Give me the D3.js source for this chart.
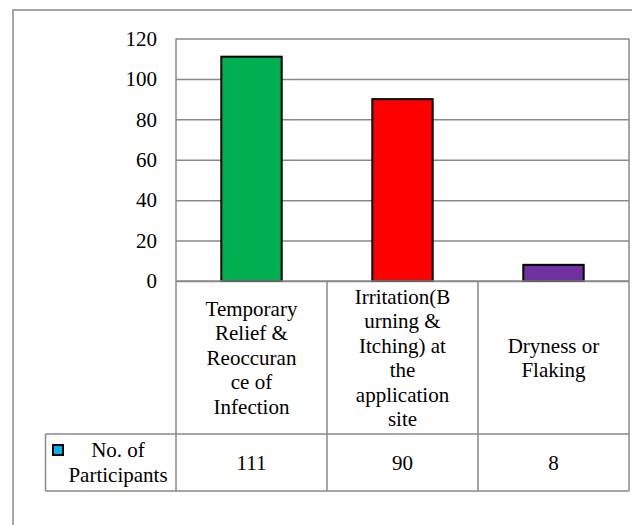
<!DOCTYPE html>
<html>
<head>
<meta charset="utf-8">
<script src="https://cdn.jsdelivr.net/npm/d3@7"></script>
<style>
  body { margin: 0; background: #fff; }
</style>
</head>
<body>
<script>
// chart data
const categories = [
  ["Temporary", "Relief &", "Reoccuran", "ce of", "Infection"],
  ["Irritation(B", "urning &", "Itching) at", "the", "application", "site"],
  ["Dryness or", "Flaking"]
];
const values = [111, 90, 8];
const barColors = ["#00b050", "#ff0000", "#7030a0"];
const seriesName = ["No. of", "Participants"];
const yTicks = [0, 20, 40, 60, 80, 100, 120];

const W = 632, H = 525;
const plotLeft = 176, plotRight = 629, plotTop = 38.5, zeroY = 281;
const catBottom = 434, tableBottom = 491, tableLeft = 45.5;
const grid = "#898989";
const fontSize = 21, lineH = 24.5;
const serif = '"Liberation Serif"';

const svg = d3.select("body").append("svg")
    .attr("width", W)
    .attr("height", H);

// outer frame (runs off the right and bottom)
svg.append("rect")
    .attr("x", 13).attr("y", 10)
    .attr("width", 700).attr("height", 600)
    .attr("fill", "none")
    .attr("stroke", grid)
    .attr("stroke-width", 1.5);

const idx = d3.range(values.length);

const x = d3.scaleBand()
    .domain(idx)
    .range([plotLeft, plotRight])
    .paddingInner(0.6)
    .paddingOuter(0.3);

const y = d3.scaleLinear()
    .domain([0, 120])
    .range([zeroY, plotTop]);

// y axis with gridlines
const yAxis = svg.append("g")
    .attr("transform", `translate(${plotLeft},0)`)
    .call(d3.axisLeft(y)
        .tickValues(yTicks)
        .tickSize(-(plotRight - plotLeft))
        .tickPadding(19));

yAxis.select(".domain").remove();
yAxis.selectAll("line")
    .attr("stroke", grid)
    .attr("stroke-width", 1.5);
yAxis.selectAll("text")
    .attr("fill", "#000")
    .style("font-family", serif)
    .style("font-size", fontSize + "px");

// bars
svg.append("g")
  .selectAll("rect")
  .data(values)
  .join("rect")
    .attr("x", (d, i) => x(i))
    .attr("y", d => y(d))
    .attr("width", x.bandwidth())
    .attr("height", d => y(0) - y(d))
    .attr("fill", (d, i) => barColors[i])
    .attr("stroke", "#000")
    .attr("stroke-width", 2);

// data table lines
const step = x.step();
const colEdge = i => plotLeft + step * i;
const tbl = svg.append("g")
    .attr("stroke", grid)
    .attr("stroke-width", 1.5);

tbl.append("line").attr("x1", plotLeft).attr("x2", plotRight).attr("y1", zeroY).attr("y2", zeroY);
tbl.append("line").attr("x1", tableLeft).attr("x2", plotRight).attr("y1", catBottom).attr("y2", catBottom);
tbl.append("line").attr("x1", tableLeft).attr("x2", plotRight).attr("y1", tableBottom).attr("y2", tableBottom);
tbl.append("line").attr("x1", tableLeft).attr("x2", tableLeft).attr("y1", catBottom).attr("y2", tableBottom);
tbl.append("line").attr("x1", plotLeft).attr("x2", plotLeft).attr("y1", plotTop).attr("y2", tableBottom);
tbl.append("line").attr("x1", plotRight).attr("x2", plotRight).attr("y1", plotTop).attr("y2", tableBottom);
tbl.selectAll(".col")
  .data(d3.range(1, values.length))
  .join("line")
    .attr("x1", colEdge).attr("x2", colEdge)
    .attr("y1", zeroY).attr("y2", tableBottom);

// category labels
const catMid = (zeroY + catBottom) / 2;
svg.append("g")
  .selectAll("text")
  .data(categories)
  .join("text")
    .attr("text-anchor", "middle")
    .style("font-family", serif)
    .style("font-size", fontSize + "px")
    .attr("x", (d, i) => x(i) + x.bandwidth() / 2)
    .attr("y", d => catMid - (d.length - 1) * lineH / 2)
  .selectAll("tspan")
  .data(d => d)
  .join("tspan")
    .attr("x", function() { return d3.select(this.parentNode).attr("x"); })
    .attr("dy", (d, i) => i === 0 ? "0.35em" : lineH)
    .text(d => d);

// value row
const rowMid = (catBottom + tableBottom) / 2;
svg.append("g")
  .selectAll("text")
  .data(values)
  .join("text")
    .attr("text-anchor", "middle")
    .style("font-family", serif)
    .style("font-size", fontSize + "px")
    .attr("x", (d, i) => x(i) + x.bandwidth() / 2)
    .attr("y", rowMid)
    .attr("dy", "0.35em")
    .text(d => d);

// legend key + series name
svg.append("rect")
    .attr("x", 53).attr("y", 445)
    .attr("width", 10).attr("height", 10)
    .attr("fill", "#00b0f0")
    .attr("stroke", "#000")
    .attr("stroke-width", 2);

svg.append("text")
    .attr("text-anchor", "middle")
    .style("font-family", serif)
    .style("font-size", fontSize + "px")
    .selectAll("tspan")
    .data(seriesName)
    .join("tspan")
      .attr("x", 118)
      .attr("y", (d, i) => rowMid - 12.5 + i * 25)
      .attr("dy", "0.35em")
      .text(d => d);
</script>
</body>
</html>
